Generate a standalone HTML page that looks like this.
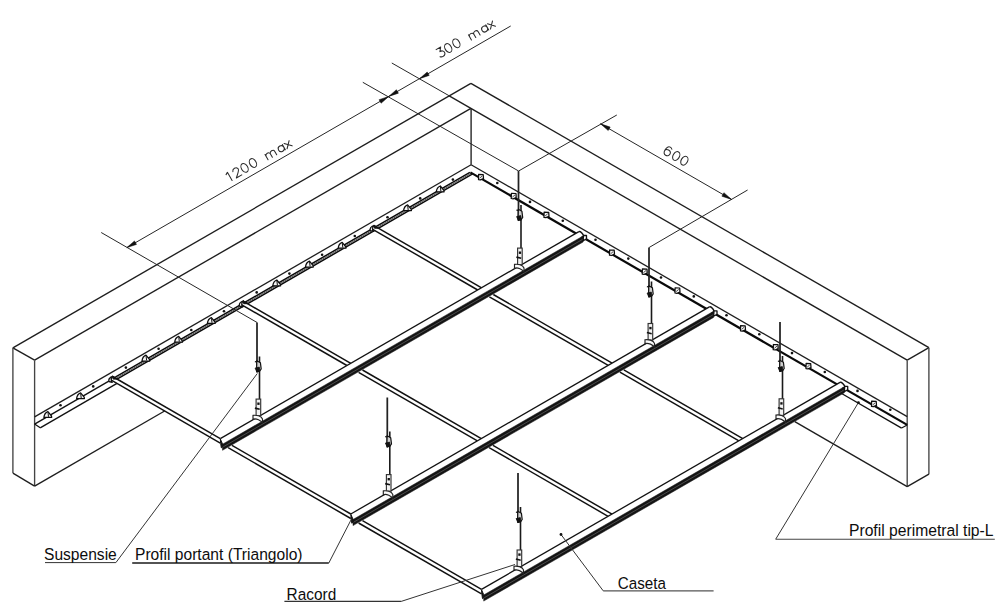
<!DOCTYPE html>
<html><head><meta charset="utf-8"><style>
html,body{margin:0;padding:0;background:#fff;}
svg{display:block;}
</style></head><body>
<svg width="1000" height="609" viewBox="0 0 1000 609" stroke-linecap="butt">
<rect width="1000" height="609" fill="#fff"/>
<line x1="12.9" y1="347.8" x2="470.9" y2="83.3" stroke="#1e1e1e" stroke-width="1.35" />
<line x1="34.6" y1="360.2" x2="470.9" y2="108.3" stroke="#1e1e1e" stroke-width="1.35" />
<line x1="12.9" y1="347.8" x2="34.6" y2="360.2" stroke="#1e1e1e" stroke-width="1.35" />
<line x1="470.9" y1="83.3" x2="928.9" y2="347.7" stroke="#1e1e1e" stroke-width="1.35" />
<line x1="470.9" y1="108.3" x2="907.2" y2="360.2" stroke="#1e1e1e" stroke-width="1.35" />
<line x1="928.9" y1="347.7" x2="907.2" y2="360.2" stroke="#1e1e1e" stroke-width="1.35" />
<line x1="12.9" y1="347.8" x2="12.9" y2="473.1" stroke="#444" stroke-width="1.35" />
<line x1="34.6" y1="360.2" x2="34.6" y2="486.1" stroke="#444" stroke-width="1.35" />
<line x1="12.9" y1="473.1" x2="34.6" y2="486.1" stroke="#1e1e1e" stroke-width="1.35" />
<line x1="928.9" y1="347.7" x2="928.9" y2="474.2" stroke="#444" stroke-width="1.35" />
<line x1="907.2" y1="360.2" x2="907.2" y2="486.6" stroke="#444" stroke-width="1.35" />
<line x1="928.9" y1="474.2" x2="907.2" y2="486.6" stroke="#1e1e1e" stroke-width="1.35" />
<line x1="471.1" y1="108.3" x2="471.1" y2="164.8" stroke="#1e1e1e" stroke-width="1.35" />
<line x1="34.6" y1="416.9" x2="471.1" y2="164.8" stroke="#1e1e1e" stroke-width="1.3" />
<line x1="471.1" y1="164.8" x2="907.2" y2="416.6" stroke="#1e1e1e" stroke-width="1.3" />
<line x1="34.6" y1="486.1" x2="164.6" y2="411" stroke="#1e1e1e" stroke-width="1.35" />
<line x1="907.2" y1="486.6" x2="794.8" y2="421.7" stroke="#1e1e1e" stroke-width="1.35" />
<line x1="34.6" y1="424.1" x2="115.3" y2="377.4" stroke="#111" stroke-width="1.35" />
<line x1="40.2" y1="427.8" x2="120.9" y2="381.2" stroke="#111" stroke-width="1.35" />
<line x1="34.6" y1="424.1" x2="40.2" y2="427.8" stroke="#111" stroke-width="1.2" />
<line x1="115.3" y1="377.1" x2="469.9" y2="172.4" stroke="#0a0a0a" stroke-width="1.5" />
<line x1="115.3" y1="380.2" x2="472.6" y2="173.9" stroke="#0a0a0a" stroke-width="1.5" />
<line x1="115.3" y1="378.7" x2="471.2" y2="173.2" stroke="#555" stroke-width="1.0" />
<line x1="470.4" y1="172.4" x2="907.2" y2="424.9" stroke="#0a0a0a" stroke-width="2.2" />
<line x1="841.6" y1="393.5" x2="901.6" y2="428.1" stroke="#111" stroke-width="1.35" />
<line x1="907.2" y1="424.9" x2="901.6" y2="428.1" stroke="#111" stroke-width="1.2" />
<path d="M43.9,417.4 C44.1,415.2 45.9,412.4 47.9,411.6 L51.5,416 L51.7,417.4 Z" fill="#f4f4f4" stroke="#0d0d0d" stroke-width="1.25" stroke-linejoin="round"/>
<path d="M48,412.4 L48.5,416.8" fill="none" stroke="#111" stroke-width="1.0"/>
<circle cx="60.5" cy="405.2" r="1.3" fill="#111"/>
<path d="M76.6,398.6 C76.8,396.4 78.6,393.6 80.6,392.8 L84.2,397.2 L84.4,398.6 Z" fill="#f4f4f4" stroke="#0d0d0d" stroke-width="1.25" stroke-linejoin="round"/>
<path d="M80.7,393.6 L81.2,398" fill="none" stroke="#111" stroke-width="1.0"/>
<circle cx="93.2" cy="386.4" r="1.3" fill="#111"/>
<circle cx="125.9" cy="367.6" r="1.3" fill="#111"/>
<path d="M142,361 C142.2,358.8 144,356 146,355.2 L149.6,359.6 L149.8,361 Z" fill="#f4f4f4" stroke="#0d0d0d" stroke-width="1.25" stroke-linejoin="round"/>
<path d="M146.1,356 L146.6,360.4" fill="none" stroke="#111" stroke-width="1.0"/>
<circle cx="158.6" cy="348.8" r="1.3" fill="#111"/>
<path d="M174.7,342.2 C174.9,340 176.7,337.2 178.7,336.4 L182.3,340.8 L182.5,342.2 Z" fill="#f4f4f4" stroke="#0d0d0d" stroke-width="1.25" stroke-linejoin="round"/>
<path d="M178.8,337.2 L179.3,341.6" fill="none" stroke="#111" stroke-width="1.0"/>
<circle cx="191.3" cy="330" r="1.3" fill="#111"/>
<path d="M207.4,323.4 C207.6,321.2 209.4,318.4 211.4,317.6 L215,322 L215.2,323.4 Z" fill="#f4f4f4" stroke="#0d0d0d" stroke-width="1.25" stroke-linejoin="round"/>
<path d="M211.5,318.4 L212,322.8" fill="none" stroke="#111" stroke-width="1.0"/>
<circle cx="224" cy="311.2" r="1.3" fill="#111"/>
<circle cx="256.7" cy="292.4" r="1.3" fill="#111"/>
<path d="M272.8,285.8 C273,283.6 274.8,280.8 276.8,280 L280.4,284.4 L280.6,285.8 Z" fill="#f4f4f4" stroke="#0d0d0d" stroke-width="1.25" stroke-linejoin="round"/>
<path d="M276.9,280.8 L277.4,285.2" fill="none" stroke="#111" stroke-width="1.0"/>
<circle cx="289.4" cy="273.6" r="1.3" fill="#111"/>
<path d="M305.5,267 C305.7,264.8 307.5,262 309.5,261.2 L313.1,265.6 L313.3,267 Z" fill="#f4f4f4" stroke="#0d0d0d" stroke-width="1.25" stroke-linejoin="round"/>
<path d="M309.6,262 L310.1,266.4" fill="none" stroke="#111" stroke-width="1.0"/>
<circle cx="322.1" cy="254.8" r="1.3" fill="#111"/>
<path d="M338.2,248.2 C338.4,246 340.2,243.2 342.2,242.4 L345.8,246.8 L346,248.2 Z" fill="#f4f4f4" stroke="#0d0d0d" stroke-width="1.25" stroke-linejoin="round"/>
<path d="M342.3,243.2 L342.8,247.6" fill="none" stroke="#111" stroke-width="1.0"/>
<circle cx="354.8" cy="236" r="1.3" fill="#111"/>
<circle cx="387.5" cy="217.2" r="1.3" fill="#111"/>
<path d="M403.6,210.6 C403.8,208.4 405.6,205.6 407.6,204.8 L411.2,209.2 L411.4,210.6 Z" fill="#f4f4f4" stroke="#0d0d0d" stroke-width="1.25" stroke-linejoin="round"/>
<path d="M407.7,205.6 L408.2,210" fill="none" stroke="#111" stroke-width="1.0"/>
<circle cx="420.2" cy="198.4" r="1.3" fill="#111"/>
<path d="M436.3,191.8 C436.5,189.6 438.3,186.8 440.3,186 L443.9,190.4 L444.1,191.8 Z" fill="#f4f4f4" stroke="#0d0d0d" stroke-width="1.25" stroke-linejoin="round"/>
<path d="M440.4,186.8 L440.9,191.2" fill="none" stroke="#111" stroke-width="1.0"/>
<circle cx="452.9" cy="179.6" r="1.3" fill="#111"/>
<path d="M478.6,174.4 L483.2,174.6 L483.5,178.6 L480.4,179.9 L478.5,179.6 Z" fill="#f6f6f6" stroke="#0d0d0d" stroke-width="1.25" stroke-linejoin="round"/>
<path d="M479.6,178.2 L482.2,176" stroke="#222" stroke-width="0.8"/>
<circle cx="497.3" cy="183" r="1.3" fill="#111"/>
<path d="M511.4,193.3 L516,193.5 L516.2,197.5 L513.1,198.8 L511.2,198.5 Z" fill="#f6f6f6" stroke="#0d0d0d" stroke-width="1.25" stroke-linejoin="round"/>
<path d="M512.4,197.1 L515,194.9" stroke="#222" stroke-width="0.8"/>
<circle cx="530" cy="201.9" r="1.3" fill="#111"/>
<path d="M544.1,212.2 L548.7,212.4 L549,216.4 L545.9,217.7 L544,217.4 Z" fill="#f6f6f6" stroke="#0d0d0d" stroke-width="1.25" stroke-linejoin="round"/>
<path d="M545.1,216 L547.7,213.8" stroke="#222" stroke-width="0.8"/>
<circle cx="562.8" cy="220.8" r="1.3" fill="#111"/>
<circle cx="595.5" cy="239.7" r="1.3" fill="#111"/>
<path d="M609.6,250 L614.2,250.2 L614.5,254.2 L611.4,255.5 L609.5,255.2 Z" fill="#f6f6f6" stroke="#0d0d0d" stroke-width="1.25" stroke-linejoin="round"/>
<path d="M610.6,253.8 L613.2,251.6" stroke="#222" stroke-width="0.8"/>
<circle cx="628.3" cy="258.6" r="1.3" fill="#111"/>
<path d="M642.4,268.9 L647,269.1 L647.2,273.1 L644.1,274.4 L642.2,274.1 Z" fill="#f6f6f6" stroke="#0d0d0d" stroke-width="1.25" stroke-linejoin="round"/>
<path d="M643.4,272.7 L646,270.5" stroke="#222" stroke-width="0.8"/>
<circle cx="661" cy="277.5" r="1.3" fill="#111"/>
<path d="M675.1,287.8 L679.7,288 L680,292 L676.9,293.3 L675,293 Z" fill="#f6f6f6" stroke="#0d0d0d" stroke-width="1.25" stroke-linejoin="round"/>
<path d="M676.1,291.6 L678.7,289.4" stroke="#222" stroke-width="0.8"/>
<circle cx="693.8" cy="296.4" r="1.3" fill="#111"/>
<circle cx="726.5" cy="315.3" r="1.3" fill="#111"/>
<path d="M740.6,325.6 L745.2,325.8 L745.5,329.8 L742.4,331.1 L740.5,330.8 Z" fill="#f6f6f6" stroke="#0d0d0d" stroke-width="1.25" stroke-linejoin="round"/>
<path d="M741.6,329.4 L744.2,327.2" stroke="#222" stroke-width="0.8"/>
<circle cx="759.3" cy="334.2" r="1.3" fill="#111"/>
<path d="M773.4,344.5 L778,344.7 L778.2,348.7 L775.1,350 L773.2,349.7 Z" fill="#f6f6f6" stroke="#0d0d0d" stroke-width="1.25" stroke-linejoin="round"/>
<path d="M774.4,348.3 L777,346.1" stroke="#222" stroke-width="0.8"/>
<circle cx="792" cy="353.1" r="1.3" fill="#111"/>
<path d="M806.1,363.4 L810.7,363.6 L811,367.6 L807.9,368.9 L806,368.6 Z" fill="#f6f6f6" stroke="#0d0d0d" stroke-width="1.25" stroke-linejoin="round"/>
<path d="M807.1,367.2 L809.7,365" stroke="#222" stroke-width="0.8"/>
<circle cx="824.8" cy="372" r="1.3" fill="#111"/>
<circle cx="857.5" cy="390.9" r="1.3" fill="#111"/>
<path d="M871.6,401.2 L876.2,401.4 L876.5,405.4 L873.4,406.7 L871.5,406.4 Z" fill="#f6f6f6" stroke="#0d0d0d" stroke-width="1.25" stroke-linejoin="round"/>
<path d="M872.6,405 L875.2,402.8" stroke="#222" stroke-width="0.8"/>
<circle cx="890.3" cy="409.8" r="1.3" fill="#111"/>
<polygon points="112.2,376.2 122.6,382.2 118.7,384.5 108.3,378.5" fill="#fff" stroke="none" stroke-width="0" stroke-linejoin="round"/>
<line x1="112.6" y1="376.5" x2="220.3" y2="438.6" stroke="#111" stroke-width="1.45" />
<line x1="108.7" y1="378.7" x2="220.3" y2="443.1" stroke="#111" stroke-width="1.45" />
<line x1="232" y1="445.4" x2="350.8" y2="514" stroke="#111" stroke-width="1.45" />
<line x1="228.1" y1="447.6" x2="350.8" y2="518.5" stroke="#111" stroke-width="1.45" />
<line x1="362.5" y1="520.7" x2="481.5" y2="589.4" stroke="#111" stroke-width="1.45" />
<line x1="358.6" y1="523" x2="481.5" y2="593.9" stroke="#111" stroke-width="1.45" />
<path d="M112.6,376.5 C110,376.7 108.2,379.7 109,381.5 L112.2,382.3 C111,380.7 111.2,378.1 112.6,376.5 Z" fill="#fafafa" stroke="#111" stroke-width="1.3" stroke-linejoin="round"/>
<polygon points="112.6,375.9 117.4,379.1 113.2,379.1" fill="#111" stroke="#111" stroke-width="1.0" stroke-linejoin="round"/>
<polygon points="242.7,300.9 253.1,306.9 249.2,309.1 238.8,303.1" fill="#fff" stroke="none" stroke-width="0" stroke-linejoin="round"/>
<line x1="243.1" y1="301.1" x2="350.8" y2="363.3" stroke="#111" stroke-width="1.45" />
<line x1="239.2" y1="303.4" x2="346.9" y2="365.5" stroke="#111" stroke-width="1.45" />
<line x1="362.5" y1="370" x2="481.3" y2="438.6" stroke="#111" stroke-width="1.45" />
<line x1="358.6" y1="372.3" x2="477.4" y2="440.9" stroke="#111" stroke-width="1.45" />
<line x1="493" y1="445.4" x2="612" y2="514.1" stroke="#111" stroke-width="1.45" />
<line x1="489.1" y1="447.6" x2="608.1" y2="516.3" stroke="#111" stroke-width="1.45" />
<path d="M243.1,301.1 C240.5,301.3 238.7,304.3 239.5,306.1 L242.7,306.9 C241.5,305.3 241.7,302.7 243.1,301.1 Z" fill="#fafafa" stroke="#111" stroke-width="1.3" stroke-linejoin="round"/>
<polygon points="243.1,300.5 247.9,303.7 243.7,303.7" fill="#111" stroke="#111" stroke-width="1.0" stroke-linejoin="round"/>
<polygon points="373.5,225.3 383.9,231.3 380,233.6 369.6,227.6" fill="#fff" stroke="none" stroke-width="0" stroke-linejoin="round"/>
<line x1="373.9" y1="225.6" x2="481.6" y2="287.8" stroke="#111" stroke-width="1.45" />
<line x1="370.1" y1="227.8" x2="477.7" y2="290" stroke="#111" stroke-width="1.45" />
<line x1="493.3" y1="294.5" x2="612.1" y2="363.1" stroke="#111" stroke-width="1.45" />
<line x1="489.4" y1="296.8" x2="608.2" y2="365.4" stroke="#111" stroke-width="1.45" />
<line x1="623.8" y1="369.9" x2="742.8" y2="438.6" stroke="#111" stroke-width="1.45" />
<line x1="619.9" y1="372.1" x2="738.9" y2="440.8" stroke="#111" stroke-width="1.45" />
<path d="M373.9,225.6 C371.3,225.8 369.5,228.8 370.3,230.6 L373.5,231.4 C372.3,229.8 372.5,227.2 373.9,225.6 Z" fill="#fafafa" stroke="#111" stroke-width="1.3" stroke-linejoin="round"/>
<polygon points="373.9,225 378.7,228.2 374.5,228.2" fill="#111" stroke="#111" stroke-width="1.0" stroke-linejoin="round"/>
<polygon points="578.9,231.6 220.3,438.6 222.5,443.9 583.5,235.5" fill="#fff" stroke="none" stroke-width="0" stroke-linejoin="round"/>
<line x1="578.9" y1="231.6" x2="220.3" y2="438.6" stroke="#111" stroke-width="1.3" />
<polygon points="583.5,235.7 222.5,444.2 222.5,450.3 583.1,242" fill="#141414" stroke="#141414" stroke-width="0.5" stroke-linejoin="round"/>
<line x1="583.9" y1="238.6" x2="222.8" y2="447.1" stroke="#707070" stroke-width="0.6" />
<polygon points="220.3,438.9 222.5,443.9 222.7,446.8 221.3,447.8 220.7,443.6" fill="#111" stroke="#111" stroke-width="1.0" stroke-linejoin="round"/>
<path d="M578.9,231.6 C580.5,231 582.9,233.9 583.5,235.5" fill="none" stroke="#111" stroke-width="1.5"/>
<polygon points="583.5,235.5 586.5,235.5 586.5,238.9 583.1,240.8" fill="#f6f6f6" stroke="#111" stroke-width="1.3" stroke-linejoin="round"/>
<polygon points="709.4,306.9 350.8,514 353,519.2 714,310.9" fill="#fff" stroke="none" stroke-width="0" stroke-linejoin="round"/>
<line x1="709.4" y1="306.9" x2="350.8" y2="514" stroke="#111" stroke-width="1.3" />
<polygon points="714,311 353,519.5 353,525.6 713.6,317.4" fill="#141414" stroke="#141414" stroke-width="0.5" stroke-linejoin="round"/>
<line x1="714.4" y1="314" x2="353.3" y2="522.4" stroke="#707070" stroke-width="0.6" />
<polygon points="350.8,514.3 353,519.2 353.2,522.2 351.8,523.2 351.2,519" fill="#111" stroke="#111" stroke-width="1.0" stroke-linejoin="round"/>
<path d="M709.4,306.9 C711,306.3 713.4,309.2 714,310.9" fill="none" stroke="#111" stroke-width="1.5"/>
<polygon points="714,310.9 717,310.9 717,314.2 713.6,316.2" fill="#f6f6f6" stroke="#111" stroke-width="1.3" stroke-linejoin="round"/>
<polygon points="840,382.4 481.5,589.4 483.7,594.7 844.7,386.3" fill="#fff" stroke="none" stroke-width="0" stroke-linejoin="round"/>
<line x1="840" y1="382.4" x2="481.5" y2="589.4" stroke="#111" stroke-width="1.3" />
<polygon points="844.7,386.5 483.7,595 483.7,601.1 844.3,392.8" fill="#141414" stroke="#141414" stroke-width="0.5" stroke-linejoin="round"/>
<line x1="845" y1="389.4" x2="484" y2="597.9" stroke="#707070" stroke-width="0.6" />
<polygon points="481.5,589.7 483.7,594.7 483.9,597.6 482.5,598.6 481.9,594.4" fill="#111" stroke="#111" stroke-width="1.0" stroke-linejoin="round"/>
<path d="M840,382.4 C841.6,381.8 844.1,384.7 844.7,386.3" fill="none" stroke="#111" stroke-width="1.5"/>
<polygon points="844.7,386.3 847.7,386.3 847.7,389.7 844.3,391.6" fill="#f6f6f6" stroke="#111" stroke-width="1.3" stroke-linejoin="round"/>
<line x1="257" y1="322.5" x2="257" y2="372.5" stroke="#222" stroke-width="1.75" />
<line x1="259.5" y1="356.5" x2="259.5" y2="399.7" stroke="#1a1a1a" stroke-width="1.6" />
<path d="M256.8,360.7 L260.4,362.7 L261.2,369 L259.1,371.8 L256.6,370.7 Z" fill="#cfcfcf" stroke="#111" stroke-width="1.2" stroke-linejoin="round"/>
<path d="M255.1,368.1 L259.3,367.1 L259.9,371 L256.9,372.1 Z" fill="#111" stroke="#111" stroke-width="0.8"/>
<path d="M254.9,361.7 l2.2,0.3" stroke="#111" stroke-width="1.2"/>
<rect x="256.1" y="399.1" width="4.6" height="16.6" fill="#f2f2f2" stroke="#333" stroke-width="1.15"/>
<rect x="257.3" y="402.5" width="2.3" height="2.4" fill="#111"/>
<path d="M254.9,408.1 l4.8,1.2" stroke="#111" stroke-width="1.6"/>
<path d="M253,419.2 L253,415.4 C256,414.9 261.5,415.7 262.5,419 L262.5,423.2 C261.5,420.2 256,418.2 253,419.2 Z" fill="#fafafa" stroke="#222" stroke-width="1.15"/>
<line x1="518.5" y1="171" x2="518.5" y2="221" stroke="#222" stroke-width="1.75" />
<line x1="521" y1="205" x2="521" y2="248.7" stroke="#1a1a1a" stroke-width="1.6" />
<path d="M518.3,209.2 L521.9,211.2 L522.7,217.5 L520.6,220.3 L518.1,219.2 Z" fill="#cfcfcf" stroke="#111" stroke-width="1.2" stroke-linejoin="round"/>
<path d="M516.6,216.6 L520.8,215.6 L521.4,219.5 L518.4,220.6 Z" fill="#111" stroke="#111" stroke-width="0.8"/>
<path d="M516.4,210.2 l2.2,0.3" stroke="#111" stroke-width="1.2"/>
<rect x="517.6" y="248.1" width="4.6" height="16.6" fill="#f2f2f2" stroke="#333" stroke-width="1.15"/>
<rect x="518.8" y="251.5" width="2.3" height="2.4" fill="#111"/>
<path d="M516.4,257.1 l4.8,1.2" stroke="#111" stroke-width="1.6"/>
<path d="M514.5,268.2 L514.5,264.4 C517.5,263.9 523,264.7 524,268 L524,272.2 C523,269.2 517.5,267.2 514.5,268.2 Z" fill="#fafafa" stroke="#222" stroke-width="1.15"/>
<line x1="387.3" y1="397.5" x2="387.3" y2="447.5" stroke="#222" stroke-width="1.75" />
<line x1="389.8" y1="431.5" x2="389.8" y2="475.2" stroke="#1a1a1a" stroke-width="1.6" />
<path d="M387.1,435.7 L390.7,437.7 L391.5,444 L389.4,446.8 L386.9,445.7 Z" fill="#cfcfcf" stroke="#111" stroke-width="1.2" stroke-linejoin="round"/>
<path d="M385.4,443.1 L389.6,442.1 L390.2,446 L387.2,447.1 Z" fill="#111" stroke="#111" stroke-width="0.8"/>
<path d="M385.2,436.7 l2.2,0.3" stroke="#111" stroke-width="1.2"/>
<rect x="386.4" y="474.6" width="4.6" height="16.6" fill="#f2f2f2" stroke="#333" stroke-width="1.15"/>
<rect x="387.6" y="478" width="2.3" height="2.4" fill="#111"/>
<path d="M385.2,483.6 l4.8,1.2" stroke="#111" stroke-width="1.6"/>
<path d="M383.3,494.7 L383.3,490.9 C386.3,490.4 391.8,491.2 392.8,494.5 L392.8,498.7 C391.8,495.7 386.3,493.7 383.3,494.7 Z" fill="#fafafa" stroke="#222" stroke-width="1.15"/>
<line x1="649" y1="247.5" x2="649" y2="297.5" stroke="#222" stroke-width="1.75" />
<line x1="651.5" y1="281.5" x2="651.5" y2="324.1" stroke="#1a1a1a" stroke-width="1.6" />
<path d="M648.8,285.7 L652.4,287.7 L653.2,294 L651.1,296.8 L648.6,295.7 Z" fill="#cfcfcf" stroke="#111" stroke-width="1.2" stroke-linejoin="round"/>
<path d="M647.1,293.1 L651.3,292.1 L651.9,296 L648.9,297.1 Z" fill="#111" stroke="#111" stroke-width="0.8"/>
<path d="M646.9,286.7 l2.2,0.3" stroke="#111" stroke-width="1.2"/>
<rect x="648.1" y="323.5" width="4.6" height="16.6" fill="#f2f2f2" stroke="#333" stroke-width="1.15"/>
<rect x="649.3" y="326.9" width="2.3" height="2.4" fill="#111"/>
<path d="M646.9,332.5 l4.8,1.2" stroke="#111" stroke-width="1.6"/>
<path d="M645,343.6 L645,339.8 C648,339.3 653.5,340.1 654.5,343.4 L654.5,347.6 C653.5,344.6 648,342.6 645,343.6 Z" fill="#fafafa" stroke="#222" stroke-width="1.15"/>
<line x1="518" y1="473" x2="518" y2="523" stroke="#222" stroke-width="1.75" />
<line x1="520.5" y1="507" x2="520.5" y2="550.6" stroke="#1a1a1a" stroke-width="1.6" />
<path d="M517.8,511.2 L521.4,513.2 L522.2,519.5 L520.1,522.3 L517.6,521.2 Z" fill="#cfcfcf" stroke="#111" stroke-width="1.2" stroke-linejoin="round"/>
<path d="M516.1,518.6 L520.3,517.6 L520.9,521.5 L517.9,522.6 Z" fill="#111" stroke="#111" stroke-width="0.8"/>
<path d="M515.9,512.2 l2.2,0.3" stroke="#111" stroke-width="1.2"/>
<rect x="517.1" y="550" width="4.6" height="16.6" fill="#f2f2f2" stroke="#333" stroke-width="1.15"/>
<rect x="518.3" y="553.4" width="2.3" height="2.4" fill="#111"/>
<path d="M515.9,559 l4.8,1.2" stroke="#111" stroke-width="1.6"/>
<path d="M514,570.1 L514,566.3 C517,565.8 522.5,566.6 523.5,569.9 L523.5,574.1 C522.5,571.1 517,569.1 514,570.1 Z" fill="#fafafa" stroke="#222" stroke-width="1.15"/>
<line x1="780" y1="322" x2="780" y2="372" stroke="#222" stroke-width="1.75" />
<line x1="782.5" y1="356" x2="782.5" y2="399.4" stroke="#1a1a1a" stroke-width="1.6" />
<path d="M779.8,360.2 L783.4,362.2 L784.2,368.5 L782.1,371.3 L779.6,370.2 Z" fill="#cfcfcf" stroke="#111" stroke-width="1.2" stroke-linejoin="round"/>
<path d="M778.1,367.6 L782.3,366.6 L782.9,370.5 L779.9,371.6 Z" fill="#111" stroke="#111" stroke-width="0.8"/>
<path d="M777.9,361.2 l2.2,0.3" stroke="#111" stroke-width="1.2"/>
<rect x="779.1" y="398.8" width="4.6" height="16.6" fill="#f2f2f2" stroke="#333" stroke-width="1.15"/>
<rect x="780.3" y="402.2" width="2.3" height="2.4" fill="#111"/>
<path d="M777.9,407.8 l4.8,1.2" stroke="#111" stroke-width="1.6"/>
<path d="M776,418.9 L776,415.1 C779,414.6 784.5,415.4 785.5,418.7 L785.5,422.9 C784.5,419.9 779,417.9 776,418.9 Z" fill="#fafafa" stroke="#222" stroke-width="1.15"/>
<line x1="126.9" y1="247.6" x2="510.7" y2="26" stroke="#262626" stroke-width="1.0" />
<line x1="101.2" y1="232.5" x2="257.1" y2="322.5" stroke="#262626" stroke-width="1.0" />
<line x1="362.8" y1="82.3" x2="518.6" y2="171" stroke="#262626" stroke-width="1.0" />
<line x1="391.8" y1="63" x2="449.2" y2="95.8" stroke="#262626" stroke-width="1.0" />
<line x1="449.2" y1="95.8" x2="470.9" y2="108.3" stroke="#1e1e1e" stroke-width="1.35" />
<line x1="600.5" y1="123.8" x2="731.5" y2="199.4" stroke="#262626" stroke-width="1.0" />
<line x1="518.6" y1="171" x2="616.8" y2="115" stroke="#262626" stroke-width="1.0" />
<line x1="649.1" y1="247.5" x2="747.6" y2="190" stroke="#262626" stroke-width="1.0" />
<polygon points="126.9,247.6 136.5,244.4 134.5,240.9" fill="#111" stroke="#111" stroke-width="0.5" stroke-linejoin="round"/>
<polygon points="388.8,96.4 379.1,99.7 381.1,103.2" fill="#111" stroke="#111" stroke-width="0.5" stroke-linejoin="round"/>
<polygon points="388.8,96.4 398.4,93.2 396.4,89.7" fill="#111" stroke="#111" stroke-width="0.5" stroke-linejoin="round"/>
<polygon points="419.5,78.7 429.2,75.4 427.2,72" fill="#111" stroke="#111" stroke-width="0.5" stroke-linejoin="round"/>
<polygon points="600.5,123.8 608.2,130.5 610.2,127.1" fill="#111" stroke="#111" stroke-width="0.5" stroke-linejoin="round"/>
<polygon points="731.5,199.4 723.9,192.7 721.9,196.2" fill="#111" stroke="#111" stroke-width="0.5" stroke-linejoin="round"/>
<g transform="translate(232.1,180.5) rotate(-30)" fill="none" stroke="#2a2a2a" stroke-width="1.05" stroke-linecap="round" stroke-linejoin="round"><g transform="translate(-3.2,0)"><path d="M3.2,0 V-9.4 L0.9,-8.1"/></g><g transform="translate(4.9,0)"><path d="M0.2,-7.3 C0.6,-8.7 1.8,-9.4 3.2,-9.4 C4.9,-9.4 6.2,-8.3 6.2,-6.8 C6.2,-5.4 5.3,-4.5 0,0 L6.3,0"/></g><g transform="translate(13.9,0)"><ellipse cx="3.2" cy="-4.7" rx="3.2" ry="4.7"/></g><g transform="translate(23.6,0)"><ellipse cx="3.2" cy="-4.7" rx="3.2" ry="4.7"/></g><g transform="translate(41.5,0)"><path d="M0,0 V-6 M0,-4.2 C0.4,-5.5 1.3,-6 2.5,-6 C3.9,-6 5,-5.2 5,-3.8 V0 M5,-4.2 C5.4,-5.5 6.3,-6 7.5,-6 C8.9,-6 10,-5.2 10,-3.8 V0"/></g><g transform="translate(55.5,0)"><path d="M6,-6 V0 M6,-3 C6,-1.3 4.7,0 3,0 C1.3,0 0,-1.3 0,-3 C0,-4.7 1.3,-6 3,-6 C4.7,-6 6,-4.7 6,-3"/></g><g transform="translate(63.5,0)"><path d="M0,-6 L5.8,0 M5.8,-6 L0,0"/></g></g>
<g transform="translate(447.8,53.7) rotate(-30)" fill="none" stroke="#2a2a2a" stroke-width="1.05" stroke-linecap="round" stroke-linejoin="round"><g transform="translate(-8.4,0)"><path d="M0.3,-9.4 L5.6,-9.4 L2.6,-5.7 C4.8,-5.9 6.3,-4.6 6.3,-2.9 C6.3,-1.1 4.9,0 3.1,0 C1.9,0 0.9,-0.5 0.2,-1.3"/></g><g transform="translate(0,0)"><ellipse cx="3.2" cy="-4.7" rx="3.2" ry="4.7"/></g><g transform="translate(9.4,0)"><ellipse cx="3.2" cy="-4.7" rx="3.2" ry="4.7"/></g><g transform="translate(27.3,0)"><path d="M0,0 V-6 M0,-4.2 C0.4,-5.5 1.3,-6 2.5,-6 C3.9,-6 5,-5.2 5,-3.8 V0 M5,-4.2 C5.4,-5.5 6.3,-6 7.5,-6 C8.9,-6 10,-5.2 10,-3.8 V0"/></g><g transform="translate(41.3,0)"><path d="M6,-6 V0 M6,-3 C6,-1.3 4.7,0 3,0 C1.3,0 0,-1.3 0,-3 C0,-4.7 1.3,-6 3,-6 C4.7,-6 6,-4.7 6,-3"/></g><g transform="translate(49.3,0)"><path d="M0,-6 L5.8,0 M5.8,-6 L0,0"/></g></g>
<g transform="translate(671.1,158.5) rotate(30)" fill="none" stroke="#2a2a2a" stroke-width="1.05" stroke-linecap="round" stroke-linejoin="round"><g transform="translate(-9.6,0)"><path d="M5.6,-8.4 C5,-9.1 4.2,-9.4 3.2,-9.4 C1.3,-9.4 0,-7.4 0,-4.4 C0,-1.6 1.3,0 3.2,0 C5,0 6.4,-1.3 6.4,-3.1 C6.4,-4.9 5,-6.1 3.2,-6.1 C1.6,-6.1 0.3,-5 0,-3.6"/></g><g transform="translate(0,0)"><ellipse cx="3.2" cy="-4.7" rx="3.2" ry="4.7"/></g><g transform="translate(9.4,0)"><ellipse cx="3.2" cy="-4.7" rx="3.2" ry="4.7"/></g></g>
<line x1="45" y1="562.6" x2="115.9" y2="562.6" stroke="#333" stroke-width="1.0" />
<line x1="115.9" y1="562.6" x2="257.3" y2="373.5" stroke="#333" stroke-width="1.0" />
<line x1="132.2" y1="563" x2="328.8" y2="563" stroke="#1a1a1a" stroke-width="1.7" />
<line x1="328.8" y1="563" x2="351.4" y2="519.2" stroke="#333" stroke-width="1.0" />
<line x1="284.4" y1="601.4" x2="401.2" y2="601.4" stroke="#333" stroke-width="1.2" />
<line x1="401.2" y1="601.4" x2="515" y2="564.5" stroke="#333" stroke-width="1.0" />
<line x1="603.2" y1="590.8" x2="713.6" y2="590.8" stroke="#555" stroke-width="1.2" />
<line x1="603.2" y1="590.8" x2="561" y2="534.5" stroke="#333" stroke-width="1.0" />
<circle cx="561" cy="534.5" r="1.4" fill="#111"/>
<line x1="775.7" y1="539.2" x2="994.8" y2="539.2" stroke="#444" stroke-width="1.1" />
<line x1="775.7" y1="539.2" x2="858.4" y2="402.6" stroke="#333" stroke-width="1.0" />
<circle cx="858.4" cy="402.6" r="1.4" fill="#111"/>
<text x="44" y="559.6" font-size="16.3" font-family="Liberation Sans, sans-serif" fill="#0d0d0d" textLength="72.8" lengthAdjust="spacingAndGlyphs">Suspensie</text>
<text x="135" y="559.6" font-size="16.3" font-family="Liberation Sans, sans-serif" fill="#0d0d0d" textLength="167.5" lengthAdjust="spacingAndGlyphs">Profil portant (Triangolo)</text>
<text x="286.6" y="599.5" font-size="16.3" font-family="Liberation Sans, sans-serif" fill="#0d0d0d" textLength="49.6" lengthAdjust="spacingAndGlyphs">Racord</text>
<text x="617.8" y="588.6" font-size="16.3" font-family="Liberation Sans, sans-serif" fill="#0d0d0d" textLength="48.1" lengthAdjust="spacingAndGlyphs">Caseta</text>
<text x="849" y="536" font-size="16.3" font-family="Liberation Sans, sans-serif" fill="#0d0d0d" textLength="144.5" lengthAdjust="spacingAndGlyphs">Profil perimetral tip-L</text>
</svg>
</body></html>
